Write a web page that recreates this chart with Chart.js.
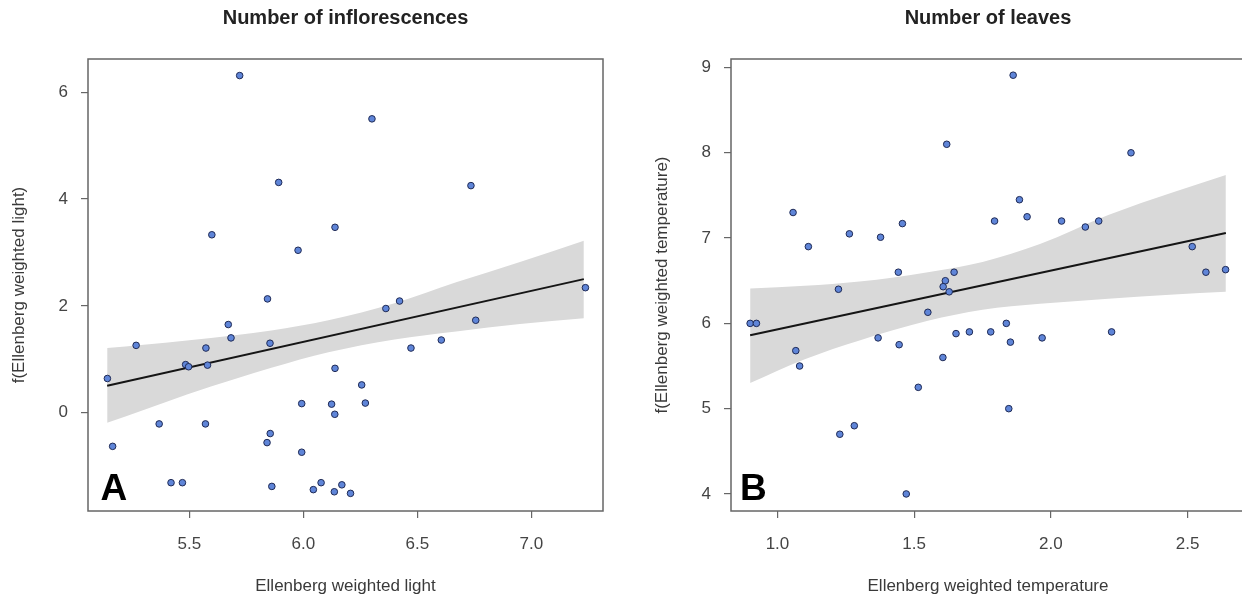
<!DOCTYPE html>
<html>
<head>
<meta charset="utf-8">
<title>Ellenberg partial effects</title>
<script src="https://cdn.jsdelivr.net/npm/chart.js@4.4.1/dist/chart.umd.min.js"></script>
<style>
  html, body { margin: 0; padding: 0; background: #fff; overflow: hidden; }
  body { width: 1242px; height: 601px; position: relative; }
  #panelA { position: absolute; left: 0; top: 0; }
  #panelB { position: absolute; left: 620px; top: 0; }
</style>
</head>
<body>
<canvas id="panelA" width="620" height="601"></canvas>
<canvas id="panelB" width="630" height="601"></canvas>
<script>
// --- Panel A: number of inflorescences vs weighted light ---
const lightX = [5.721, 6.301, 5.892, 6.735, 5.599, 6.139, 5.977, 5.843, 6.362, 6.422, 7.237,
  6.756, 5.671, 5.683, 5.267, 5.573, 5.854, 6.472, 6.605, 5.484, 5.497, 5.580, 5.141, 6.139,
  6.256, 5.993, 6.124, 6.272, 6.138, 5.368, 5.571, 5.855, 5.841, 5.164, 5.993, 5.420, 5.470,
  5.862, 6.078, 6.044, 6.169, 6.136, 6.207];
const lightY = [6.31, 5.50, 4.31, 4.25, 3.33, 3.47, 3.04, 2.13, 1.95, 2.09, 2.34,
  1.73, 1.65, 1.40, 1.26, 1.21, 1.30, 1.21, 1.36, 0.90, 0.86, 0.89, 0.64, 0.83,
  0.52, 0.17, 0.16, 0.18, -0.03, -0.21, -0.21, -0.39, -0.56, -0.63, -0.74, -1.31, -1.31,
  -1.38, -1.31, -1.44, -1.35, -1.48, -1.51];
const lightFitX = [5.14, 7.23];
const lightFitY = [0.505, 2.50];
const lightBandX = [5.14, 5.30, 5.49, 5.70, 5.86, 6.11, 6.40, 6.67, 6.95, 7.23];
const lightBandUpper = [1.21, 1.27, 1.35, 1.45, 1.54, 1.73, 2.05, 2.44, 2.82, 3.22];
const lightBandLower = [-0.19, 0.05, 0.34, 0.63, 0.84, 1.13, 1.37, 1.52, 1.66, 1.77];
const lightXTicks = [5.5, 6.0, 6.5, 7.0];
const lightYTicks = [0, 2, 4, 6];
const lightXRange = [5.056, 7.314];
const lightYRange = [-1.84, 6.62];

// --- Panel B: number of leaves vs weighted temperature ---
const tempX = [1.862, 1.619, 2.293, 1.057, 1.885, 1.794, 1.913, 2.039, 2.126, 2.175, 1.457,
  1.263, 1.377, 1.113, 2.517, 1.442, 1.646, 2.567, 2.639, 1.614, 1.606, 1.628, 1.223, 1.550,
  0.900, 0.923, 1.837, 1.067, 1.081, 1.368, 1.445, 1.653, 1.702, 1.780, 1.852, 1.968, 2.222,
  1.605, 1.515, 1.846, 1.228, 1.281, 1.471];
const tempY = [8.91, 8.10, 8.00, 7.30, 7.45, 7.20, 7.25, 7.20, 7.13, 7.20, 7.17,
  7.05, 7.01, 6.90, 6.90, 6.60, 6.60, 6.60, 6.63, 6.50, 6.43, 6.37, 6.40, 6.13,
  6.00, 6.00, 6.00, 5.68, 5.50, 5.83, 5.75, 5.88, 5.90, 5.90, 5.78, 5.83, 5.90,
  5.60, 5.25, 5.00, 4.70, 4.80, 4.00];
const tempFitX = [0.90, 2.64];
const tempFitY = [5.86, 7.06];
const tempBandX = [0.90, 1.10, 1.30, 1.55, 1.75, 1.96, 2.21, 2.45, 2.64];
const tempBandUpper = [6.41, 6.44, 6.49, 6.60, 6.72, 6.93, 7.27, 7.54, 7.74];
const tempBandLower = [5.30, 5.58, 5.80, 6.03, 6.16, 6.23, 6.29, 6.34, 6.37];
const tempXTicks = [1.0, 1.5, 2.0, 2.5];
const tempYTicks = [4, 5, 6, 7, 8, 9];
const tempXRange = [0.83, 2.71];
const tempYRange = [3.80, 9.10];

const FONT = '"Liberation Sans", Arial, Helvetica, sans-serif';
Chart.defaults.font.family = FONT;

function toPoints(xs, ys) {
  return xs.map((x, i) => ({ x: x, y: ys[i] }));
}

// box round the plot area, panel letter and title
const panelDecor = {
  id: 'panelDecor',
  afterDatasetsDraw(chart, args, opts) {
    const ctx = chart.ctx;
    const a = chart.chartArea;
    ctx.save();
    ctx.strokeStyle = '#666';
    ctx.lineWidth = 1.5;
    ctx.strokeRect(a.left, a.top, a.right - a.left, a.bottom - a.top);

    ctx.fillStyle = '#000';
    ctx.font = 'bold 37px ' + FONT;
    ctx.textBaseline = 'alphabetic';
    ctx.textAlign = 'left';
    ctx.fillText(opts.letter, a.left + opts.letterDx, a.bottom - 11.5);

    ctx.fillStyle = '#222';
    ctx.font = 'bold 20px ' + FONT;
    ctx.textAlign = 'center';
    ctx.fillText(opts.title, (a.left + a.right) / 2, 24);
    ctx.restore();
  }
};

function axisOptions(range, ticks, title, fmt, pad, extra) {
  return Object.assign({
    type: 'linear',
    min: range[0],
    max: range[1],
    afterBuildTicks: s => { s.ticks = ticks.map(v => ({ value: v })); },
    grid: { drawOnChartArea: false, drawTicks: true, tickLength: 7, color: '#666', lineWidth: 1.2 },
    border: { display: false },
    ticks: {
      color: '#444', font: { size: 17 }, padding: pad,
      maxRotation: 0, minRotation: 0, autoSkip: false,
      callback: v => fmt(v)
    },
    title: { display: true, text: title, color: '#3a3a3a', font: { size: 17 } }
  }, extra);
}

function makePanel(id, p) {
  return new Chart(document.getElementById(id), {
    type: 'scatter',
    data: {
      datasets: [
        {
          data: toPoints(p.x, p.y),
          pointRadius: 3.3,
          pointBackgroundColor: '#5f85d8',
          pointBorderColor: '#1f2a55',
          pointBorderWidth: 1
        },
        {
          type: 'line',
          data: toPoints(p.fitX, p.fitY),
          borderColor: '#151515',
          borderWidth: 2,
          pointRadius: 0,
          fill: false
        },
        {
          type: 'line',
          data: toPoints(p.bandX, p.bandUpper),
          borderColor: 'rgba(0,0,0,0)',
          borderWidth: 0,
          pointRadius: 0,
          backgroundColor: '#d9d9d9',
          fill: '+1',
          tension: 0.4,
          cubicInterpolationMode: 'monotone'
        },
        {
          type: 'line',
          data: toPoints(p.bandX, p.bandLower),
          borderColor: 'rgba(0,0,0,0)',
          borderWidth: 0,
          pointRadius: 0,
          fill: false,
          tension: 0.4,
          cubicInterpolationMode: 'monotone'
        }
      ]
    },
    options: {
      responsive: false,
      animation: false,
      events: [],
      devicePixelRatio: 1,
      layout: { padding: { top: 59, right: p.padRight, left: 0, bottom: 0 } },
      plugins: {
        legend: { display: false },
        tooltip: { enabled: false },
        panelDecor: { letter: p.letter, letterDx: p.letterDx, title: p.title }
      },
      scales: {
        x: axisOptions(p.xRange, p.xTicks, p.xTitle, v => v.toFixed(1), 16, {
          afterFit: s => { s.height = 90; }
        }),
        y: axisOptions(p.yRange, p.yTicks, p.yTitle, v => String(v), 13, {
          afterFit: s => { s.width = p.yWidth; }
        })
      }
    },
    plugins: [panelDecor]
  });
}

function setTitlePadding(opts, axis, pad) {
  opts.scales[axis].title.padding = pad;
}

const chartA = makePanel('panelA', {
  x: lightX, y: lightY, fitX: lightFitX, fitY: lightFitY,
  bandX: lightBandX, bandUpper: lightBandUpper, bandLower: lightBandLower,
  xTicks: lightXTicks, yTicks: lightYTicks, xRange: lightXRange, yRange: lightYRange,
  xTitle: 'Ellenberg weighted light', yTitle: 'f(Ellenberg weighted light)',
  title: 'Number of inflorescences', letter: 'A', letterDx: 12.5,
  yWidth: 88, padRight: 17
});
setTitlePadding(chartA.options, 'x', { top: 0, bottom: 4 });
setTitlePadding(chartA.options, 'y', { top: 9, bottom: 0 });
chartA.update();

const chartB = makePanel('panelB', {
  x: tempX, y: tempY, fitX: tempFitX, fitY: tempFitY,
  bandX: tempBandX, bandUpper: tempBandUpper, bandLower: tempBandLower,
  xTicks: tempXTicks, yTicks: tempYTicks, xRange: tempXRange, yRange: tempYRange,
  xTitle: 'Ellenberg weighted temperature', yTitle: 'f(Ellenberg weighted temperature)',
  title: 'Number of leaves', letter: 'B', letterDx: 9,
  yWidth: 111, padRight: 4.5
});
setTitlePadding(chartB.options, 'x', { top: 0, bottom: 4 });
setTitlePadding(chartB.options, 'y', { top: 32, bottom: 0 });
chartB.update();
</script>
</body>
</html>
